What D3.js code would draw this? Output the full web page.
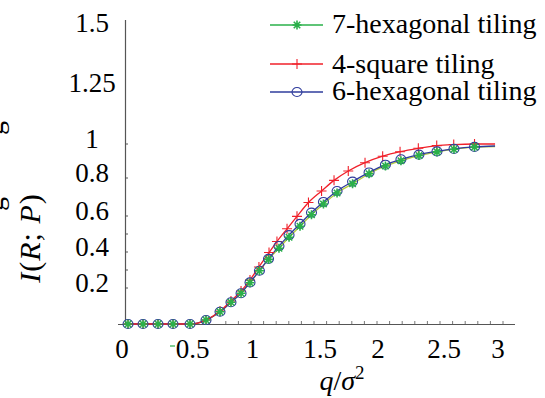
<!DOCTYPE html>
<html>
<head>
<meta charset="utf-8">
<script src="https://cdn.jsdelivr.net/npm/d3@7"></script>
<style>
  body { margin: 0; background: #fff; }
</style>
</head>
<body>
<svg id="chart" width="545" height="398" font-family="'Liberation Serif', 'Times New Roman', Times, 'DejaVu Serif', serif"></svg>
<script>
// q/sigma^2 sample points (hexagonal runs share the same grid)
const qHex = [0.024, 0.143, 0.262, 0.381, 0.516, 0.643, 0.754, 0.841, 0.921, 0.992, 1.067, 1.139,
  1.222, 1.302, 1.389, 1.480, 1.575, 1.683, 1.806, 1.937, 2.067, 2.190, 2.333, 2.476, 2.611, 2.774, 2.937];
const qSquare = [0.024, 0.143, 0.262, 0.381, 0.516, 0.643, 0.754, 0.841, 0.921, 0.992, 1.063, 1.143,
  1.206, 1.286, 1.365, 1.456, 1.560, 1.659, 1.772, 1.905, 2.045, 2.183, 2.328, 2.474, 2.609, 2.774, 2.937];

const hex7 = [0, 0, 0, 0, 0, 0.022, 0.068, 0.121, 0.171, 0.229, 0.296, 0.359,
  0.421, 0.482, 0.543, 0.607, 0.667, 0.728, 0.779, 0.835, 0.878, 0.907, 0.936, 0.956, 0.971, 0.983, 0.986];
const square4 = [0, 0, 0, 0, 0, 0.022, 0.072, 0.128, 0.183, 0.244, 0.317, 0.397,
  0.458, 0.529, 0.598, 0.675, 0.739, 0.798, 0.850, 0.896, 0.932, 0.957, 0.976, 0.991, 0.997, 1.0, 1.0];
const hex6 = [0, 0, 0, 0, 0, 0.022, 0.068, 0.121, 0.171, 0.231, 0.296, 0.362,
  0.433, 0.494, 0.556, 0.619, 0.678, 0.739, 0.791, 0.842, 0.885, 0.915, 0.941, 0.959, 0.973, 0.984, 0.989];

const legendNames = ["7-hexagonal tiling", "4-square tiling", "6-hexagonal tiling"];

const xTickValues = [0, 0.5, 1, 1.5, 2, 2.5, 3];
const xTickLabels = ["0", "0.5", "1", "1.5", "2", "2.5", "3"];
const yTickValues = [0.2, 0.4, 0.6, 0.8, 1, 1.25, 1.5];
const yTickLabels = ["0.2", "0.4", "0.6", "0.8", "1", "1.25", "1.5"];

const svg = d3.select("#chart");

const x = d3.scaleLinear().domain([0, 3]).range([125, 503]);
const y = d3.scaleLinear().domain([0, 1]).range([324, 144]);
// tick labels in the original were hand placed, not evenly spaced
const xLab = d3.scaleLinear().domain(xTickValues).range([122, 192.5, 252.5, 320, 378, 444, 498]);
const yLab = d3.scaleLinear().domain(yTickValues).range([292, 256, 220, 182, 148, 92, 32]);

const axisColor = "#555";

// axes lines
svg.append("line").attr("x1", 118).attr("x2", 515).attr("y1", y(0) + 0.5).attr("y2", y(0) + 0.5)
  .attr("stroke", axisColor).attr("stroke-width", 1.2);
svg.append("line").attr("x1", x(0) + 0.5).attr("x2", x(0) + 0.5).attr("y1", 20).attr("y2", y(0))
  .attr("stroke", axisColor).attr("stroke-width", 1.2);

// x minor ticks
svg.append("g").selectAll("line")
  .data(d3.range(8, 31).map(d => d / 10))
  .enter().append("line")
  .attr("x1", d => x(d)).attr("x2", d => x(d))
  .attr("y1", y(0)).attr("y2", y(0) - 3)
  .attr("stroke", axisColor).attr("stroke-width", 0.8);

// y ticks
svg.append("g").selectAll("line")
  .data([0.2, 0.4, 0.6, 0.8, 1])
  .enter().append("line")
  .attr("x1", x(0)).attr("x2", x(0) + 3)
  .attr("y1", d => yLab(d) - 4).attr("y2", d => yLab(d) - 4)
  .attr("stroke", axisColor).attr("stroke-width", 1);
svg.append("g").selectAll("line")
  .data([0.3, 0.5])
  .enter().append("line")
  .attr("x1", x(0)).attr("x2", x(0) + 3)
  .attr("y1", d => y(d)).attr("y2", d => y(d))
  .attr("stroke", axisColor).attr("stroke-width", 1);

// tick labels
svg.append("g").selectAll("text")
  .data(xTickValues)
  .enter().append("text")
  .attr("x", d => xLab(d)).attr("y", 358)
  .attr("text-anchor", "middle").attr("font-size", 27)
  .text((d, i) => xTickLabels[i]);
svg.append("line").attr("x1", 170).attr("x2", 175).attr("y1", 346).attr("y2", 346)
  .attr("stroke", "#2ab04a").attr("stroke-width", 1.2);

svg.append("g").selectAll("text")
  .data(yTickValues)
  .enter().append("text")
  .attr("x", 92).attr("y", d => yLab(d))
  .attr("text-anchor", "middle").attr("font-size", 27)
  .text((d, i) => yTickLabels[i]);

// axis titles
const xt = svg.append("text").attr("x", 342).attr("y", 390).attr("text-anchor", "middle").attr("font-size", 28);
xt.append("tspan").attr("font-style", "italic").text("q");
xt.append("tspan").text("/");
xt.append("tspan").attr("font-style", "italic").text("σ");
xt.append("tspan").attr("font-size", 19).attr("dy", -11).text("2");

const yt = svg.append("text").attr("transform", "translate(40,238) rotate(-90)")
  .attr("text-anchor", "middle").attr("font-size", 30).attr("letter-spacing", 1);
yt.append("tspan").attr("font-style", "italic").text("I");
yt.append("tspan").text("(");
yt.append("tspan").attr("font-style", "italic").text("R");
yt.append("tspan").text("; ");
yt.append("tspan").attr("font-style", "italic").text("P");
yt.append("tspan").text(")");

// clipped fragments at the left edge
[128, 204].forEach(cy => {
  svg.append("text").attr("transform", `translate(3,${cy}) rotate(-90)`)
    .attr("text-anchor", "middle").attr("font-size", 28).text("g");
});

// series
const red = "#f0202a", blue = "#2f3c9c", green = "#2ab04a", lime = "#b4cc3c";
const line = d3.line().x(d => x(d[0])).y(d => y(d[1])).curve(d3.curveMonotoneX);
const pts = (qs, vs) => qs.map((q, i) => [q, vs[i]]);

const dHex6 = pts(qHex, hex6), dSq = pts(qSquare, square4), dHex7 = pts(qHex, hex7);

svg.append("path").datum(dHex7).attr("d", line).attr("fill", "none").attr("stroke", lime).attr("stroke-width", 1.3);
svg.append("path").datum(dHex6).attr("d", line).attr("fill", "none").attr("stroke", blue).attr("stroke-width", 1.3);
svg.append("path").datum(dSq).attr("d", line).attr("fill", "none").attr("stroke", red).attr("stroke-width", 1.3);

function plus(g, cx, cy, r, c) {
  g.append("path").attr("d", `M${cx - r},${cy}H${cx + r}M${cx},${cy - r}V${cy + r}`)
    .attr("stroke", c).attr("stroke-width", 1.1).attr("fill", "none");
}
function star(g, cx, cy, r, c) {
  const k = r * 0.72;
  g.append("path")
    .attr("d", `M${cx - r},${cy}H${cx + r}M${cx},${cy - r}V${cy + r}M${cx - k},${cy - k}L${cx + k},${cy + k}M${cx - k},${cy + k}L${cx + k},${cy - k}`)
    .attr("stroke", c).attr("stroke-width", 1.6).attr("fill", "none");
}
function circ(g, cx, cy, r, c) {
  g.append("ellipse").attr("cx", cx).attr("cy", cy).attr("rx", r + 0.5).attr("ry", r)
    .attr("stroke", c).attr("stroke-width", 1.1).attr("fill", "none");
}

const mk = svg.append("g");
// last point of each run is the line end, it carries no marker
dSq.slice(0, -1).forEach(d => plus(mk, x(d[0]), y(d[1]), 5, red));
dHex6.slice(0, -1).forEach(d => circ(mk, x(d[0]), y(d[1]), 4.5, blue));
dHex7.slice(0, -1).forEach(d => star(mk, x(d[0]), y(d[1]), 4.5, green));

// legend
const legY = [25, 64, 92], legText = [33, 73, 100];
const legColors = [green, red, blue];
const legMarks = [star, plus, circ];
legendNames.forEach((name, i) => {
  svg.append("line").attr("x1", 270).attr("x2", 323).attr("y1", legY[i]).attr("y2", legY[i])
    .attr("stroke", legColors[i]).attr("stroke-width", 1.3);
  legMarks[i](svg, 297, legY[i], i === 1 ? 5 : 4.5, legColors[i]);
  svg.append("text").attr("x", 332).attr("y", legText[i]).attr("font-size", 28).text(name);
});
</script>
</body>
</html>
